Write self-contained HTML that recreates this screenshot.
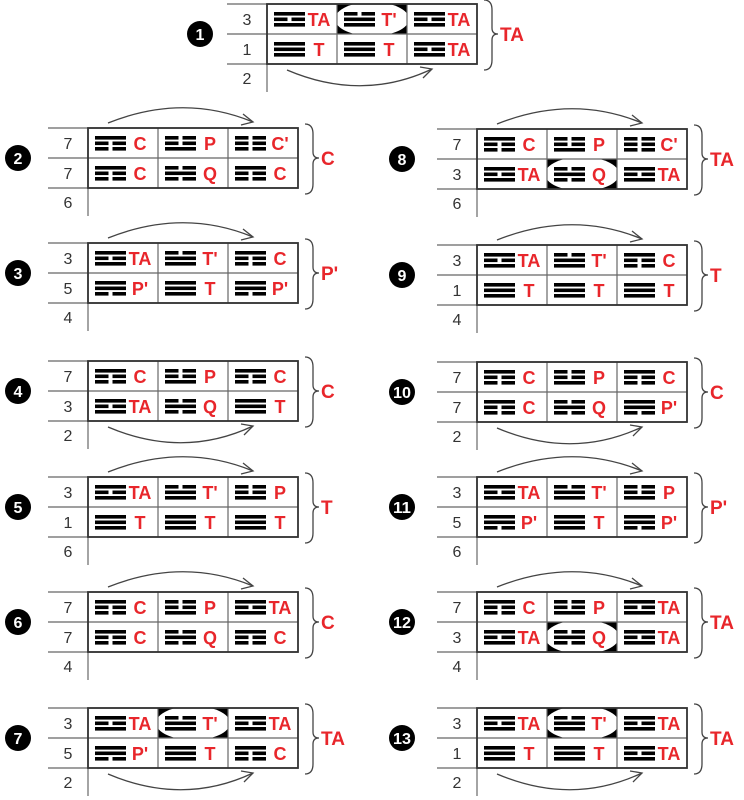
<!DOCTYPE html>
<html><head><meta charset="utf-8"><style>
html,body{margin:0;padding:0;background:#fff;}
svg{display:block;font-family:"Liberation Sans",Arial,sans-serif;}
.rl{font-size:16px;fill:#333;text-anchor:middle}
.lb{font-size:18px;font-weight:bold;fill:#e8262b;text-anchor:middle}
.fl{font-size:19px;font-weight:bold;fill:#e8262b}
.cn{font-size:16px;font-weight:bold;fill:#fff;text-anchor:middle}
.ln{stroke:#666;stroke-width:1.2;fill:none}
.bx{stroke:#333;stroke-width:1.8;fill:none}
.ar{stroke:#444;stroke-width:1.3;fill:none}
</style></head><body>
<svg width="744" height="800" viewBox="0 0 744 800" xmlns="http://www.w3.org/2000/svg">
<defs>
<g id="s"><rect x="0" width="31" height="3.6"/></g>
<g id="b"><rect x="0" width="13.5" height="3.6"/><rect x="17.5" width="13.5" height="3.6"/></g>
<g id="C"><use href="#s" y="0"/><use href="#b" y="5.5"/><use href="#b" y="11"/></g>
<g id="Cp"><use href="#b" y="0"/><use href="#b" y="5.5"/><use href="#b" y="11"/></g>
<g id="P"><use href="#b" y="0"/><use href="#b" y="5.5"/><use href="#s" y="11"/></g>
<g id="Q"><use href="#b" y="0"/><use href="#s" y="5.5"/><use href="#b" y="11"/></g>
<g id="T"><use href="#s" y="0"/><use href="#s" y="5.5"/><use href="#s" y="11"/></g>
<g id="Tp"><use href="#b" y="0"/><use href="#s" y="5.5"/><use href="#s" y="11"/></g>
<g id="TA"><use href="#s" y="0"/><use href="#b" y="5.5"/><use href="#s" y="11"/></g>
<g id="Pp"><use href="#s" y="0"/><use href="#s" y="5.5"/><use href="#b" y="11"/></g>
<g id="frame">
<line class="ln" x1="0" y1="0" x2="250" y2="0"/><line class="ln" x1="0" y1="30" x2="250" y2="30"/><line class="ln" x1="0" y1="60" x2="250" y2="60"/>
<line class="ln" x1="110" y1="0" x2="110" y2="60"/><line class="ln" x1="180" y1="0" x2="180" y2="60"/>
<line class="ln" x1="40" y1="0" x2="40" y2="88"/>
<rect class="bx" x="40" y="0" width="210" height="60"/>
<path class="ar" d="M257,-4 Q265,-4 265,6 L265,24 Q265,30 271,30 Q265,30 265,36 L265,56 Q265,66 257,66"/>
</g>
<g id="up"><path class="ar" d="M60,-5 Q135,-35 205,-6"/><path class="ar" d="M195,-14 L205,-6 L193,-3"/></g>
<g id="dn"><path class="ar" d="M60,66 Q135,98 205,65"/><path class="ar" d="M193,63 L205,65 L196,74"/></g>
<rect id="ovT" x="110" y="0" width="70" height="30" fill="#000"/>
<ellipse id="ovTe" cx="145" cy="15" rx="37" ry="17" fill="#fff"/>
</defs>

<!-- Panel 1 -->
<g transform="translate(227,4)">
<use href="#ovT"/><use href="#ovTe"/>
<use href="#frame"/><use href="#dn"/>
<circle cx="-27" cy="30" r="13"/><text class="cn" x="-27" y="36">1</text>
<text class="rl" x="20" y="21">3</text><text class="rl" x="20" y="51">1</text><text class="rl" x="20" y="80">2</text>
<use href="#TA" x="7" y="8" transform="translate(40,0)"/><text class="lb" x="92" y="22">TA</text>
<use href="#Tp" x="117" y="8"/><text class="lb" x="162" y="22">T'</text>
<use href="#TA" x="187" y="8"/><text class="lb" x="232" y="22">TA</text>
<use href="#T" x="47" y="38"/><text class="lb" x="92" y="52">T</text>
<use href="#T" x="117" y="38"/><text class="lb" x="162" y="52">T</text>
<use href="#TA" x="187" y="38"/><text class="lb" x="232" y="52">TA</text>
<text class="fl" x="273" y="37">TA</text>
</g>

<!-- Panel 2 -->
<g transform="translate(48,128)">
<use href="#frame"/><use href="#up"/>
<circle cx="-30" cy="30" r="13"/><text class="cn" x="-30" y="36">2</text>
<text class="rl" x="20" y="21">7</text><text class="rl" x="20" y="51">7</text><text class="rl" x="20" y="80">6</text>
<use href="#C" x="47" y="8"/><text class="lb" x="92" y="22">C</text>
<use href="#P" x="117" y="8"/><text class="lb" x="162" y="22">P</text>
<use href="#Cp" x="187" y="8"/><text class="lb" x="232" y="22">C'</text>
<use href="#C" x="47" y="38"/><text class="lb" x="92" y="52">C</text>
<use href="#Q" x="117" y="38"/><text class="lb" x="162" y="52">Q</text>
<use href="#C" x="187" y="38"/><text class="lb" x="232" y="52">C</text>
<text class="fl" x="273" y="37">C</text>
</g>

<!-- Panel 3 -->
<g transform="translate(48,243)">
<use href="#frame"/><use href="#up"/>
<circle cx="-30" cy="30" r="13"/><text class="cn" x="-30" y="36">3</text>
<text class="rl" x="20" y="21">3</text><text class="rl" x="20" y="51">5</text><text class="rl" x="20" y="80">4</text>
<use href="#TA" x="47" y="8"/><text class="lb" x="92" y="22">TA</text>
<use href="#Tp" x="117" y="8"/><text class="lb" x="162" y="22">T'</text>
<use href="#C" x="187" y="8"/><text class="lb" x="232" y="22">C</text>
<use href="#Pp" x="47" y="38"/><text class="lb" x="92" y="52">P'</text>
<use href="#T" x="117" y="38"/><text class="lb" x="162" y="52">T</text>
<use href="#Pp" x="187" y="38"/><text class="lb" x="232" y="52">P'</text>
<text class="fl" x="273" y="37">P'</text>
</g>

<!-- Panel 4 -->
<g transform="translate(48,361)">
<use href="#frame"/><use href="#dn"/>
<circle cx="-30" cy="30" r="13"/><text class="cn" x="-30" y="36">4</text>
<text class="rl" x="20" y="21">7</text><text class="rl" x="20" y="51">3</text><text class="rl" x="20" y="80">2</text>
<use href="#C" x="47" y="8"/><text class="lb" x="92" y="22">C</text>
<use href="#P" x="117" y="8"/><text class="lb" x="162" y="22">P</text>
<use href="#C" x="187" y="8"/><text class="lb" x="232" y="22">C</text>
<use href="#TA" x="47" y="38"/><text class="lb" x="92" y="52">TA</text>
<use href="#Q" x="117" y="38"/><text class="lb" x="162" y="52">Q</text>
<use href="#T" x="187" y="38"/><text class="lb" x="232" y="52">T</text>
<text class="fl" x="273" y="37">C</text>
</g>

<!-- Panel 5 -->
<g transform="translate(48,477)">
<use href="#frame"/><use href="#up"/>
<circle cx="-30" cy="30" r="13"/><text class="cn" x="-30" y="36">5</text>
<text class="rl" x="20" y="21">3</text><text class="rl" x="20" y="51">1</text><text class="rl" x="20" y="80">6</text>
<use href="#TA" x="47" y="8"/><text class="lb" x="92" y="22">TA</text>
<use href="#Tp" x="117" y="8"/><text class="lb" x="162" y="22">T'</text>
<use href="#P" x="187" y="8"/><text class="lb" x="232" y="22">P</text>
<use href="#T" x="47" y="38"/><text class="lb" x="92" y="52">T</text>
<use href="#T" x="117" y="38"/><text class="lb" x="162" y="52">T</text>
<use href="#T" x="187" y="38"/><text class="lb" x="232" y="52">T</text>
<text class="fl" x="273" y="37">T</text>
</g>

<!-- Panel 6 -->
<g transform="translate(48,592)">
<use href="#frame"/><use href="#up"/>
<circle cx="-30" cy="30" r="13"/><text class="cn" x="-30" y="36">6</text>
<text class="rl" x="20" y="21">7</text><text class="rl" x="20" y="51">7</text><text class="rl" x="20" y="80">4</text>
<use href="#C" x="47" y="8"/><text class="lb" x="92" y="22">C</text>
<use href="#P" x="117" y="8"/><text class="lb" x="162" y="22">P</text>
<use href="#TA" x="187" y="8"/><text class="lb" x="232" y="22">TA</text>
<use href="#C" x="47" y="38"/><text class="lb" x="92" y="52">C</text>
<use href="#Q" x="117" y="38"/><text class="lb" x="162" y="52">Q</text>
<use href="#C" x="187" y="38"/><text class="lb" x="232" y="52">C</text>
<text class="fl" x="273" y="37">C</text>
</g>

<!-- Panel 7 -->
<g transform="translate(48,708)">
<use href="#ovT"/><use href="#ovTe"/>
<use href="#frame"/><use href="#dn"/>
<circle cx="-30" cy="30" r="13"/><text class="cn" x="-30" y="36">7</text>
<text class="rl" x="20" y="21">3</text><text class="rl" x="20" y="51">5</text><text class="rl" x="20" y="80">2</text>
<use href="#TA" x="47" y="8"/><text class="lb" x="92" y="22">TA</text>
<use href="#Tp" x="117" y="8"/><text class="lb" x="162" y="22">T'</text>
<use href="#TA" x="187" y="8"/><text class="lb" x="232" y="22">TA</text>
<use href="#Pp" x="47" y="38"/><text class="lb" x="92" y="52">P'</text>
<use href="#T" x="117" y="38"/><text class="lb" x="162" y="52">T</text>
<use href="#C" x="187" y="38"/><text class="lb" x="232" y="52">C</text>
<text class="fl" x="273" y="37">TA</text>
</g>

<!-- Panel 8 -->
<g transform="translate(437,129)">
<g transform="translate(0,30)"><use href="#ovT"/><use href="#ovTe"/></g>
<use href="#frame"/><use href="#up"/>
<circle cx="-35" cy="30" r="13"/><text class="cn" x="-35" y="36">8</text>
<text class="rl" x="20" y="21">7</text><text class="rl" x="20" y="51">3</text><text class="rl" x="20" y="80">6</text>
<use href="#C" x="47" y="8"/><text class="lb" x="92" y="22">C</text>
<use href="#P" x="117" y="8"/><text class="lb" x="162" y="22">P</text>
<use href="#Cp" x="187" y="8"/><text class="lb" x="232" y="22">C'</text>
<use href="#TA" x="47" y="38"/><text class="lb" x="92" y="52">TA</text>
<use href="#Q" x="117" y="38"/><text class="lb" x="162" y="52">Q</text>
<use href="#TA" x="187" y="38"/><text class="lb" x="232" y="52">TA</text>
<text class="fl" x="273" y="37">TA</text>
</g>

<!-- Panel 9 -->
<g transform="translate(437,245)">
<use href="#frame"/><use href="#up"/>
<circle cx="-35" cy="30" r="13"/><text class="cn" x="-35" y="36">9</text>
<text class="rl" x="20" y="21">3</text><text class="rl" x="20" y="51">1</text><text class="rl" x="20" y="80">4</text>
<use href="#TA" x="47" y="8"/><text class="lb" x="92" y="22">TA</text>
<use href="#Tp" x="117" y="8"/><text class="lb" x="162" y="22">T'</text>
<use href="#C" x="187" y="8"/><text class="lb" x="232" y="22">C</text>
<use href="#T" x="47" y="38"/><text class="lb" x="92" y="52">T</text>
<use href="#T" x="117" y="38"/><text class="lb" x="162" y="52">T</text>
<use href="#T" x="187" y="38"/><text class="lb" x="232" y="52">T</text>
<text class="fl" x="273" y="37">T</text>
</g>

<!-- Panel 10 -->
<g transform="translate(437,362)">
<use href="#frame"/><use href="#dn"/>
<circle cx="-35" cy="30" r="13"/><text class="cn" x="-35" y="36" textLength="18" lengthAdjust="spacingAndGlyphs">10</text>
<text class="rl" x="20" y="21">7</text><text class="rl" x="20" y="51">7</text><text class="rl" x="20" y="80">2</text>
<use href="#C" x="47" y="8"/><text class="lb" x="92" y="22">C</text>
<use href="#P" x="117" y="8"/><text class="lb" x="162" y="22">P</text>
<use href="#C" x="187" y="8"/><text class="lb" x="232" y="22">C</text>
<use href="#C" x="47" y="38"/><text class="lb" x="92" y="52">C</text>
<use href="#Q" x="117" y="38"/><text class="lb" x="162" y="52">Q</text>
<use href="#Pp" x="187" y="38"/><text class="lb" x="232" y="52">P'</text>
<text class="fl" x="273" y="37">C</text>
</g>

<!-- Panel 11 -->
<g transform="translate(437,477)">
<use href="#frame"/><use href="#up"/>
<circle cx="-35" cy="30" r="13"/><text class="cn" x="-35" y="36" textLength="18" lengthAdjust="spacingAndGlyphs">11</text>
<text class="rl" x="20" y="21">3</text><text class="rl" x="20" y="51">5</text><text class="rl" x="20" y="80">6</text>
<use href="#TA" x="47" y="8"/><text class="lb" x="92" y="22">TA</text>
<use href="#Tp" x="117" y="8"/><text class="lb" x="162" y="22">T'</text>
<use href="#P" x="187" y="8"/><text class="lb" x="232" y="22">P</text>
<use href="#Pp" x="47" y="38"/><text class="lb" x="92" y="52">P'</text>
<use href="#T" x="117" y="38"/><text class="lb" x="162" y="52">T</text>
<use href="#Pp" x="187" y="38"/><text class="lb" x="232" y="52">P'</text>
<text class="fl" x="273" y="37">P'</text>
</g>

<!-- Panel 12 -->
<g transform="translate(437,592)">
<g transform="translate(0,30)"><use href="#ovT"/><use href="#ovTe"/></g>
<use href="#frame"/><use href="#up"/>
<circle cx="-35" cy="30" r="13"/><text class="cn" x="-35" y="36" textLength="18" lengthAdjust="spacingAndGlyphs">12</text>
<text class="rl" x="20" y="21">7</text><text class="rl" x="20" y="51">3</text><text class="rl" x="20" y="80">4</text>
<use href="#C" x="47" y="8"/><text class="lb" x="92" y="22">C</text>
<use href="#P" x="117" y="8"/><text class="lb" x="162" y="22">P</text>
<use href="#TA" x="187" y="8"/><text class="lb" x="232" y="22">TA</text>
<use href="#TA" x="47" y="38"/><text class="lb" x="92" y="52">TA</text>
<use href="#Q" x="117" y="38"/><text class="lb" x="162" y="52">Q</text>
<use href="#TA" x="187" y="38"/><text class="lb" x="232" y="52">TA</text>
<text class="fl" x="273" y="37">TA</text>
</g>

<!-- Panel 13 -->
<g transform="translate(437,708)">
<use href="#ovT"/><use href="#ovTe"/>
<use href="#frame"/><use href="#dn"/>
<circle cx="-35" cy="30" r="13"/><text class="cn" x="-35" y="36" textLength="18" lengthAdjust="spacingAndGlyphs">13</text>
<text class="rl" x="20" y="21">3</text><text class="rl" x="20" y="51">1</text><text class="rl" x="20" y="80">2</text>
<use href="#TA" x="47" y="8"/><text class="lb" x="92" y="22">TA</text>
<use href="#Tp" x="117" y="8"/><text class="lb" x="162" y="22">T'</text>
<use href="#TA" x="187" y="8"/><text class="lb" x="232" y="22">TA</text>
<use href="#T" x="47" y="38"/><text class="lb" x="92" y="52">T</text>
<use href="#T" x="117" y="38"/><text class="lb" x="162" y="52">T</text>
<use href="#TA" x="187" y="38"/><text class="lb" x="232" y="52">TA</text>
<text class="fl" x="273" y="37">TA</text>
</g>
</svg>
</body></html>
